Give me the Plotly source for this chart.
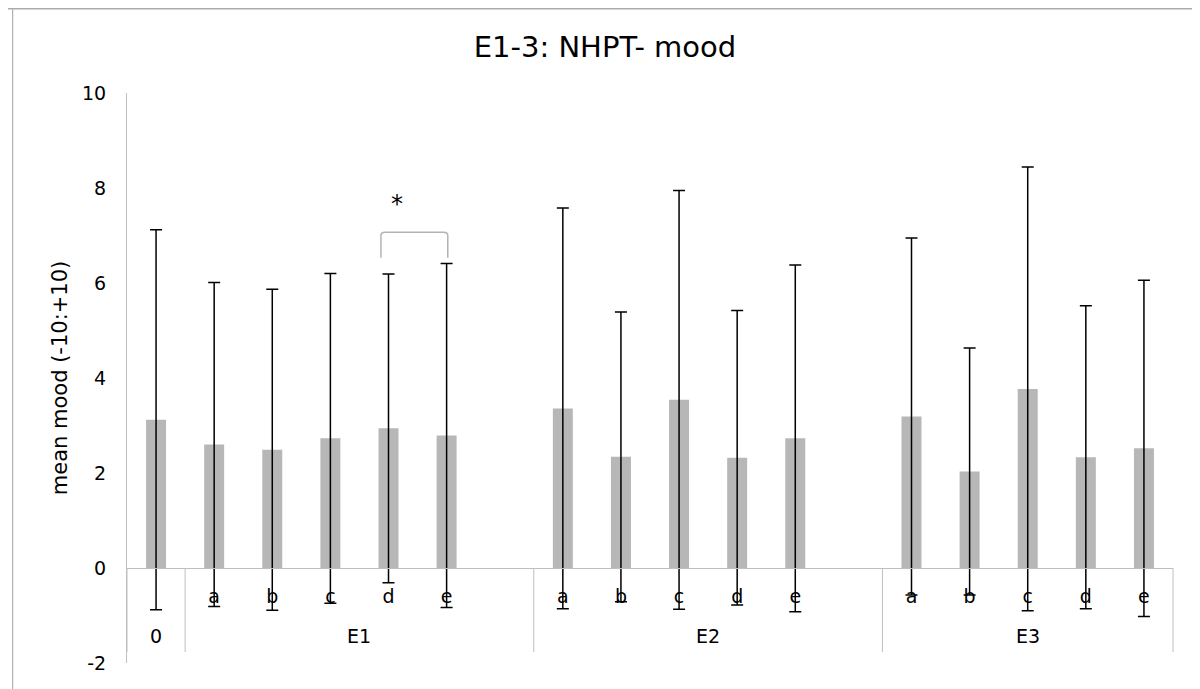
import plotly.graph_objects as go

# ---- data ----
groups = ["0", "E1", "E1", "E1", "E1", "E1", "E1",
          "E2", "E2", "E2", "E2", "E2", "E2",
          "E3", "E3", "E3", "E3", "E3"]
conditions = ["", "a", "b", "c", "d", "e", "",
              "a", "b", "c", "d", "e", "",
              "a", "b", "c", "d", "e"]
mean_mood = [3.12, 2.60, 2.49, 2.73, 2.94, 2.79, None,
             3.36, 2.34, 3.54, 2.32, 2.73, None,
             3.19, 2.03, 3.77, 2.33, 2.52]
sd_mood = [4.00, 3.41, 3.38, 3.47, 3.25, 3.62, None,
           4.22, 3.05, 4.41, 3.10, 3.65, None,
           3.76, 2.60, 4.67, 3.19, 3.54]
y_range = [-2, 10]
y_ticks = [-2, 0, 2, 4, 6, 8, 10]
y_ticktext = ["-2", "0", "2", "4", "6", "8", "10"]
sig_pair = [("E1", "d"), ("E1", "e")]
sig_label = "*"
sig_low, sig_high, sig_text_y = 6.53, 7.07, 7.66
group_label_y = -1.43
divider_bottom = -1.77

FONT = "DejaVu Sans"
AXIS_GRAY = "#bfbfbf"
FS = 19

# page body has an 8px margin; the figure is sized so the page fits the window
W, H = 1192, 681
ML, MT, MR, MB = 119, 85, 27, 26
PW, PH = W - ML - MR, H - MT - MB

keys = [f"{g}|{c}|{i}" for i, (g, c) in enumerate(zip(groups, conditions))]
n = len(keys)

fig = go.Figure()
fig.add_trace(go.Bar(
    x=keys,
    y=mean_mood,
    marker=dict(color="#b7b7b7", line=dict(width=0)),
    error_y=dict(type="data", array=sd_mood, visible=True,
                 color="black", thickness=1.5, width=6),
    showlegend=False,
))

def xpaper(pos):
    # pos in category-index units (centre of category i is i)
    return (pos + 0.5) / n

# group spans
spans = []
start = 0
for i in range(1, n + 1):
    if i == n or groups[i] != groups[start]:
        spans.append((groups[start], start, i - 1))
        start = i

shapes = []
annotations = []
boundaries = sorted({s - 0.5 for _, s, _ in spans} | {e + 0.5 for _, _, e in spans})
for b in boundaries:
    shapes.append(dict(type="line", xref="paper", yref="y",
                       x0=xpaper(b), x1=xpaper(b), y0=0, y1=divider_bottom,
                       line=dict(color=AXIS_GRAY, width=1)))
for name, s, e in spans:
    annotations.append(dict(xref="paper", yref="y", x=xpaper((s + e) / 2),
                            y=group_label_y, text=name, showarrow=False,
                            xanchor="center", yanchor="middle",
                            font=dict(family=FONT, size=FS, color="black")))

pairs = list(zip(groups, conditions))
i1 = pairs.index(sig_pair[0])
i2 = pairs.index(sig_pair[1])
xa = xpaper(i1 - 0.13)
xb = xpaper(i2 + 0.02)
d = 0.004
r = 0.07
path = (f"M {xa},{sig_low} L {xa},{sig_high - r} Q {xa},{sig_high} {xa + d},{sig_high} "
        f"L {xb - d},{sig_high} Q {xb},{sig_high} {xb},{sig_high - r} L {xb},{sig_low}")
shapes.append(dict(type="path", xref="paper", yref="y", path=path,
                   line=dict(color="#b3b3b3", width=1.5)))
annotations.append(dict(xref="paper", yref="y", x=xpaper(i1), y=sig_text_y,
                        text=sig_label, showarrow=False,
                        font=dict(family=FONT, size=24, color="black")))

# outer chart frame (clipped by the picture edges)
shapes += [
    dict(type="line", xref="paper", yref="paper",
         x0=(4.7 - ML) / PW, x1=(4.7 - ML) / PW,
         y0=(MT + PH - 0) / PH, y1=(MT + PH - 700) / PH,
         line=dict(color="#a0a0a0", width=1)),
    dict(type="line", xref="paper", yref="paper",
         x0=(0 - ML) / PW, x1=(1210 - ML) / PW,
         y0=(MT + PH - 0.75) / PH, y1=(MT + PH - 0.75) / PH,
         line=dict(color="#ababab", width=1.5)),
]

fig.update_layout(
    width=W, height=H,
    margin=dict(l=ML, r=MR, t=MT, b=MB, autoexpand=False),
    paper_bgcolor="white", plot_bgcolor="white",
    bargap=0.656,
    title=dict(text="E1-3: NHPT- mood", x=597 / W, xanchor="center",
               y=1 - 39 / H, yanchor="middle",
               font=dict(family=FONT, size=29, color="black")),
    font=dict(family=FONT, size=FS, color="black"),
    xaxis=dict(type="category", anchor="free",
               position=(0 - y_range[0]) / (y_range[1] - y_range[0]),
               tickvals=keys, ticktext=conditions, tickangle=0,
               showline=True, linecolor=AXIS_GRAY, linewidth=1,
               ticks="", showgrid=False, zeroline=False, automargin=False,
               ticklabelstandoff=11,
               tickfont=dict(family=FONT, size=FS, color="black")),
    yaxis=dict(range=y_range, tickvals=y_ticks, ticktext=y_ticktext,
               showgrid=False, automargin=False,
               zeroline=False, showline=True, linecolor=AXIS_GRAY,
               linewidth=1, ticks="", ticklabelstandoff=16,
               tickfont=dict(family=FONT, size=FS, color="black")),
    shapes=shapes,
    annotations=annotations,
)
fig.update_yaxes(title=dict(text="mean mood (-10:+10)", standoff=8,
                            font=dict(family=FONT, size=21, color="black")))

fig.write_html("out.html")
